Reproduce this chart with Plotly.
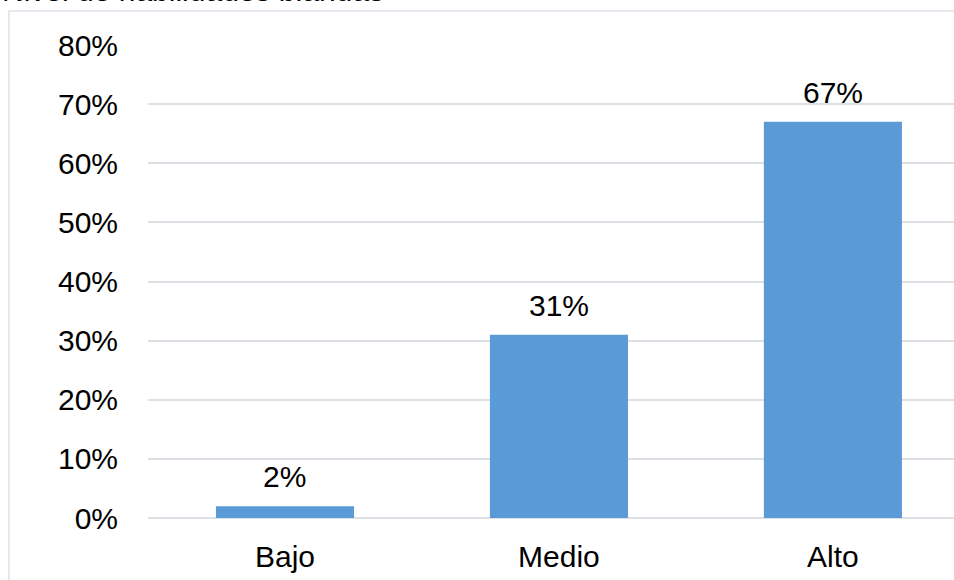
import plotly.graph_objects as go

categories = ["Bajo", "Medio", "Alto"]
values = [0.02, 0.31, 0.67]
labels = ["2%", "31%", "67%"]
y_ticks = [0, 0.1, 0.2, 0.3, 0.4, 0.5, 0.6, 0.7, 0.8]
y_ticktext = ["0%", "10%", "20%", "30%", "40%", "50%", "60%", "70%", "80%"]
title_text = "Nivel de habilidades blandas"

FONT = "Liberation Sans, Arial, sans-serif"
W, H = 954, 580
L, R, T, B = 148, 0, 45, 62
plot_w = W - L - R
plot_h = H - T - B

fig = go.Figure()
fig.add_trace(go.Bar(
    x=categories, y=values,
    width=0.504,
    marker=dict(color="#5a9ad6", line=dict(width=0)),
    hoverinfo="skip",
))

def px_to_paper_x(px):
    return (px - L) / plot_w

def px_to_paper_y(py):
    return (H - B - py) / plot_h

annotations = [dict(
    text=title_text, xref="paper", yref="paper",
    x=px_to_paper_x(0), y=px_to_paper_y(9),
    xanchor="left", yanchor="bottom", showarrow=False,
    font=dict(family=FONT, size=30, color="#000000"),
)]
for c, v, t in zip(categories, values, labels):
    annotations.append(dict(
        x=c, y=v, text=t, xref="x", yref="y",
        xanchor="center", yanchor="bottom", yshift=11, showarrow=False,
        font=dict(family=FONT, size=30, color="#000000"),
    ))

fig.update_layout(
    width=W, height=H,
    margin=dict(l=L, r=R, t=T, b=B, pad=0),
    paper_bgcolor="white", plot_bgcolor="white",
    showlegend=False,
    font=dict(family=FONT, size=30, color="#000000"),
    xaxis=dict(
        type="category", range=[-0.5, 2.442],
        showgrid=False, showline=False, zeroline=False,
        ticks="", ticklabelstandoff=18,
        tickfont=dict(family=FONT, size=30, color="#000000"),
    ),
    yaxis=dict(
        range=[0, 0.8], tickvals=y_ticks, ticktext=y_ticktext,
        showgrid=True, gridcolor="#dde1e6", gridwidth=1.5,
        zeroline=True, zerolinecolor="#dde1e6", zerolinewidth=1.5,
        showline=False, ticks="", ticklabelstandoff=29,
        tickfont=dict(family=FONT, size=30, color="#000000"),
    ),
    shapes=[dict(
        type="rect", xref="paper", yref="paper",
        x0=px_to_paper_x(9), x1=px_to_paper_x(W + 20),
        y0=px_to_paper_y(H + 20), y1=px_to_paper_y(11),
        line=dict(color="#dde1e6", width=1.5), fillcolor="rgba(0,0,0,0)",
        layer="below",
    )],
    annotations=annotations,
)

fig.write_html(
    "out.html",
    config={"displayModeBar": False},
    post_script="document.body.style.margin='0';document.body.style.overflow='hidden';document.documentElement.style.overflow='hidden';",
)
